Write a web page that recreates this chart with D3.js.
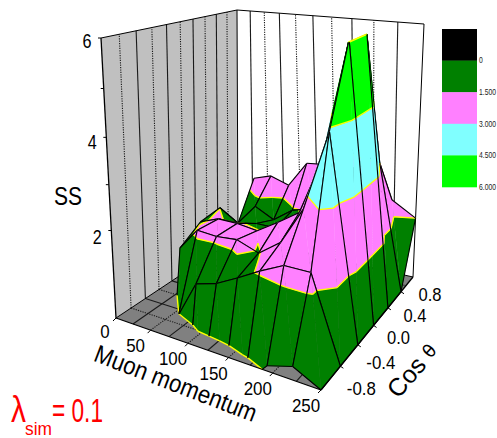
<!DOCTYPE html>
<html><head><meta charset="utf-8"><script src="https://cdnjs.cloudflare.com/ajax/libs/d3/7.8.5/d3.min.js"></script>
<style>html,body{margin:0;background:#fff}svg{display:block}text{font-family:"Liberation Sans",Arial,sans-serif}</style></head><body><svg id="c" width="497" height="438"></svg>
<script>
// ---- data ----
const momentumNodes=[0,27.8,55.6,83.3,111.1,138.9,166.7,194.4,222.2,250];
const cosNodes=[-1.2,-0.8,-0.4,0,0.4,0.8,1.2];
const ssCos0=[null,-4,-2,-2.4,-1.1,-0.92,-0.44,0.12,0.3,0];
const ssCos1=[null,-4,-0.02,0.85,1.0,1.27,1.57,1.84,1.85,0];
const ssCos2=[null,1.08,1.63,1.6,1.65,1.47,1.84,2.7,4.43,0];
const ssCos3=[null,1.42,1.6,1.6,1.54,1.85,2.2,3.47,6.05,0];
const ssCos4=[null,1.49,1.2,1.3,1.3,1.45,2.3,3.5,6.05,0];
const ssCos5=[null,0.8,1.35,1.1,1.45,1.6,2.4,3.2,3.0,0];
const ssCos6=[null,1.75,1.9,1.74,2.4,2.45,2.6,2.2,1.85,1.5];
const ssRows=[ssCos0,ssCos1,ssCos2,ssCos3,ssCos4,ssCos5,ssCos6];
const momentumTicks=[0,50,100,150,200,250];
const cosTicks=[-0.8,-0.4,0,0.4,0.8];
const ssTicks=[2,3,4,5,6];
const ssLabelled=[2,4,6];
const bandLevels=[1.5,3,4.5];
const bandColors=["#008000","#FF80FF","#80FFFF","#00FF00"];
const legendLabels=["0","1.500","3.000","4.500","6.000"];
const legendColors=["#000000","#008000","#FF80FF","#80FFFF","#00FF00"];
// ---- projection ----
const floorC=[[116,318],[321,390],[413,277],[238,237]];
const topC=[[101,38],[312,84],[424,24],[237,10]];
function hom(q){const [[x0,y0],[x1,y1],[x2,y2],[x3,y3]]=q;
 const dx1=x1-x2,dx2=x3-x2,sx=x0-x1+x2-x3,dy1=y1-y2,dy2=y3-y2,sy=y0-y1+y2-y3;
 const d=dx1*dy2-dx2*dy1,g=(sx*dy2-dx2*sy)/d,h=(dx1*sy-sx*dy1)/d;
 const a=x1-x0+g*x1,b=x3-x0+h*x3,c=x0,dd=y1-y0+g*y1,e=y3-y0+h*y3,f=y0;
 return (u,v)=>{const w=g*u+h*v+1;return[(a*u+b*v+c)/w,(dd*u+e*v+f)/w];};}
const F=hom(floorC),T=hom(topC);
const uS=d3.scaleLinear([0,250],[0,1]),vS=d3.scaleLinear([-1.2,1.2],[0,1]),zS=d3.scaleLinear([0,6],[0,1]);
function Puv(u,v,z){const a=F(u,v),b=T(u,v),w=zS(z),f=w/(w+1.1*(1-w));return[a[0]+(b[0]-a[0])*f,a[1]+(b[1]-a[1])*f];}
const svg=d3.select('#c');
const line=d3.line();
const poly=pts=>line(pts)+'Z';
// walls and floor
const A=Puv(0,0,0),B=Puv(1,0,0),C=Puv(1,1,0),D=Puv(0,1,0),A2=Puv(0,0,6),C2=Puv(1,1,6),D2=Puv(0,1,6);
svg.append('path').attr('d',poly([A,D,D2,A2])).attr('fill','#C0C0C0');
svg.append('path').attr('d',poly([A,B,C,D])).attr('fill','#808080');
const gl=svg.append('g').attr('fill','none').attr('stroke','#000');
const gridK=d3.range(1,10);
function gridLine(a,b,solid){gl.append('path').attr('d',line([a,b])).attr('stroke-width',1.1).attr('stroke-dasharray',solid?null:'1.2,1.2').attr('stroke','#1a1a1a');}
gridK.forEach(k=>{const t=k/10;
 gridLine(Puv(0,t,0),Puv(0,t,6),k%2==0);
 gridLine(Puv(t,1,0),Puv(t,1,6),k%2==1);
 gridLine(Puv(0,t,0),Puv(1,t,0),k%2==0);
 gridLine(Puv(t,0,0),Puv(t,1,0),k%2==1);
});
gl.append('path').attr('d',line([D,D2])).attr('stroke-width',1);
gl.append('path').attr('d',line([C,C2])).attr('stroke-width',1);
gl.append('path').attr('d',line([A2,D2,C2])).attr('stroke-width',1);
gl.append('path').attr('d',line([A,A2])).attr('stroke-width',1.3);
gl.append('path').attr('d',line([A,D])).attr('stroke-width',1);
gl.append('path').attr('d',line([D,C])).attr('stroke-width',1);
// surface, painter order: far cells first
const surf=svg.append('g').attr('stroke-linejoin','round');
const bandIndex=d3.scaleThreshold(bandLevels,[0,1,2,3]);
function clipAbove(p,l){return clipG(p,l,(a)=>a[2]>=l);}
function clipBelow(p,l){return clipG(p,l,(a)=>a[2]<=l);}
function clipG(p,l,ins){const o=[];for(let i=0;i<p.length;i++){const a=p[i],b=p[(i+1)%p.length],ia=ins(a),ib=ins(b);
 if(ia)o.push(a);
 if(ia!=ib){const t=(l-a[2])/(b[2]-a[2]);o.push([a[0]+(b[0]-a[0])*t,a[1]+(b[1]-a[1])*t,l]);}}return o;}
const pr=p=>Puv(p[0],p[1],p[2]);
const allLevels=[0,1.5,3,4.5,6];
function drawTri(t,g){
 const bounds=[0,...bandLevels,6];
 for(let b=0;b<4;b++){let p=clipAbove(t,bounds[b]);if(p.length>2)p=clipBelow(p,bounds[b+1]);
  if(p.length>2){const c=bandColors[bandIndex((bounds[b]+bounds[b+1])/2)];
   g.append('path').attr('d',poly(p.map(pr))).attr('fill',c).attr('stroke',c).attr('stroke-width',0.4);}}
}
function drawContours(t,g){
 allLevels.forEach(l=>{const seg=[];for(let i=0;i<3;i++){const a=t[i],b=t[(i+1)%3];
  if((a[2]>=l)!=(b[2]>=l)){const k=(l-a[2])/(b[2]-a[2]);seg.push([a[0]+(b[0]-a[0])*k,a[1]+(b[1]-a[1])*k,l]);}}
  if(seg.length==2)g.append('path').attr('d',line(seg.map(pr))).attr('fill','none').attr('stroke','#FFFF00').attr('stroke-width',1.4);});
}
function drawEdge(a,b,g){let p=a,q=b;
 if(p[2]<0&&q[2]<0||p[2]>6&&q[2]>6)return;
 const cut=(x,y,l)=>{const k=(l-x[2])/(y[2]-x[2]);return[x[0]+(y[0]-x[0])*k,x[1]+(y[1]-x[1])*k,l];};
 if(p[2]<0)p=cut(p,q,0);else if(q[2]<0)q=cut(p,q,0);
 if(p[2]>6)p=cut(p,q,6);else if(q[2]>6)q=cut(p,q,6);
 g.append('path').attr('d',line([pr(p),pr(q)])).attr('fill','none').attr('stroke','#000').attr('stroke-width',1.1);}
const node=(m,j)=>{const z=ssRows[j][m];return z==null?null:[uS(momentumNodes[m]),vS(cosNodes[j]),z];};
for(let m=0;m<momentumNodes.length-1;m++){for(let j=cosNodes.length-2;j>=0;j--){
 const a=node(m,j),b=node(m+1,j),c=node(m+1,j+1),d=node(m,j+1);
 if(!a||!b||!c||!d)continue;
 const g=surf.append('g');
 const tris=[[a,b,d],[b,c,d]];
 tris.forEach(t=>drawTri(t,g));
 tris.forEach(t=>drawContours(t,g));
 [[a,b],[b,c],[c,d],[d,a]].forEach(e=>drawEdge(e[0],e[1],g));
}}
// axes
const ax=svg.append('g').attr('stroke','#000').attr('fill','none');
ax.append('path').attr('d',line([A,B])).attr('stroke-width',1.3);
ax.append('path').attr('d',line([B,C])).attr('stroke-width',1.3);
ssTicks.forEach(z=>{const p=Puv(0,0,z);ax.append('path').attr('d',line([p,[p[0]-3,p[1]]])).attr('stroke-width',1);});
momentumTicks.forEach(x=>{const p=Puv(uS(x),0,0);ax.append('path').attr('d',line([p,[p[0]-3,p[1]+3]])).attr('stroke-width',1);});
cosTicks.forEach(c=>{const p=Puv(1,vS(c),0);ax.append('path').attr('d',line([p,[p[0]+3,p[1]+2]])).attr('stroke-width',1);});
const txt=svg.append('g').attr('fill','#000');
function label(x,y,s,size,len,rot){const e=txt.append('text').attr('x',x).attr('y',y).attr('text-anchor','middle').attr('dominant-baseline','central').attr('font-size',size).text(s);
 if(len)e.attr('textLength',len).attr('lengthAdjust','spacingAndGlyphs');
 if(rot)e.attr('transform',`rotate(${rot} ${x} ${y})`);return e;}
ssLabelled.forEach(z=>{const p=Puv(0,0,z);label(p[0]-14,p[1]+3+(6-z)*0.9,String(z),20,9);});
momentumTicks.forEach(x=>{const p=Puv(uS(x),0,0);label(p[0]+(x==0?-11:-15),p[1]+(x==0?13:15.5),String(x),19,String(x).length*9.4);});
cosTicks.forEach(c=>{const p=Puv(1,vS(c),0),t=(vS(c)-1/6)/(4/6);label(p[0]+21+8*t,p[1]+22-19*t,c.toFixed(1),19,c<0?29:23);});
label(68,196,'SS',25,28);
label(176,383,'Muon momentum',25,172,21);
const cosG=txt.append('g').attr('transform','translate(412,370) rotate(-49)');
const ct=cosG.append('text').attr('text-anchor','middle').attr('dominant-baseline','central').attr('font-size',25);
ct.append('tspan').text('Cos ');ct.append('tspan').attr('font-size',18).attr('font-family','"DejaVu Sans"').text('θ');
// legend
const legendY=d3.scalePoint(d3.range(legendLabels.length+1),[29,187]);
const lg=svg.append('g');
legendColors.forEach((c,i)=>{lg.append('rect').attr('x',442).attr('y',legendY(i)).attr('width',35).attr('height',legendY(i+1)-legendY(i)+0.3).attr('fill',c);
 lg.append('text').attr('transform',`translate(479,${legendY(i+1)}) scale(0.8,1)`).attr('dominant-baseline','central').attr('font-size',8.5).attr('fill','#222').text(legendLabels[i]);});
// annotation
const red=svg.append('g').attr('fill','#FF0000');
red.append('text').attr('x',11).attr('y',422).attr('font-size',36).attr('font-family','"Liberation Serif",serif').attr('textLength',15).attr('lengthAdjust','spacingAndGlyphs').text('λ');
red.append('text').attr('x',25).attr('y',435).attr('font-size',18).attr('textLength',27).attr('lengthAdjust','spacingAndGlyphs').text('sim');
red.append('text').attr('x',52).attr('y',422).attr('font-size',33).attr('font-family','"Liberation Serif",serif').attr('textLength',51).attr('lengthAdjust','spacingAndGlyphs').text('= 0.1');
</script></body></html>
